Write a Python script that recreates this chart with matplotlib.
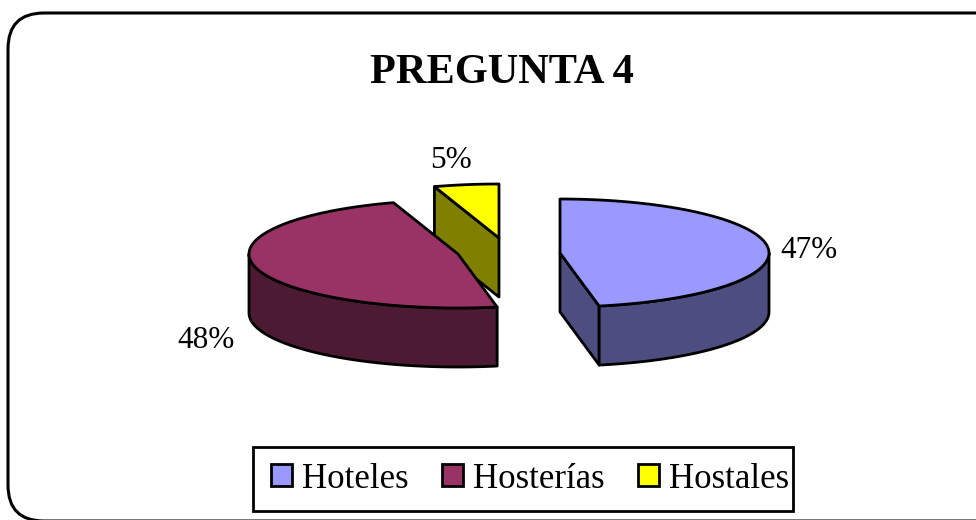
#!/usr/bin/env python3
"""Exploded 3D style pie, PREGUNTA 4."""

import numpy as np
import matplotlib
matplotlib.use("Agg")
import matplotlib.pyplot as plt
from matplotlib.patches import FancyBboxPatch, Polygon, Rectangle

# Data
categories = ["Hoteles", "Hosterías", "Hostales"]
shares = [47, 48, 5]
title = "PREGUNTA 4"

# Styles
top_colors = ["#9999FF", "#993366", "#FFFF00"]
side_colors = ["#4D4D80", "#4D1A33", "#808000"]
centers = [(560, 253), (458, 254), (499, 238)]
label_pos = [(809, 251), (206, 340), (451, 160)]
draw_order = [2, 1, 0]
RX, RY, DEPTH = 209, 54, 59
LINE = 2.0

plt.rcParams["font.family"] = ["Liberation Serif", "DejaVu Serif"]

fig = plt.figure(figsize=(9.76, 5.2), dpi=100)
ax = fig.add_axes([0, 0, 1, 1])
ax.set_xlim(0, 976)
ax.set_ylim(520, 0)
ax.axis("off")

# Rounded frame runs off the right and bottom of the picture
ax.add_patch(FancyBboxPatch((8, 13), 1100, 508, boxstyle="round,pad=0,rounding_size=36",
                            fc="white", ec="black", lw=2.2, clip_on=True))


def rim(center, angles):
    """Points on the top ellipse, angles clockwise from 12 o'clock"""
    cx, cy = center
    return np.column_stack([cx + RX * np.sin(angles), cy - RY * np.cos(angles)])


def face(points, color, order):
    ax.add_patch(Polygon(points, closed=True, fc=color, ec="black", lw=LINE,
                         joinstyle="round", zorder=order))


def draw_slice(idx, start, end, order):
    center = centers[idx]
    top = rim(center, np.linspace(start, end, 80))
    down = np.array([0, DEPTH])

    # Radial walls that turn towards the viewer
    for angle, visible in ((start, np.sin(start) < -1e-6), (end, np.sin(end) > 1e-6)):
        if visible:
            edge = rim(center, np.array([angle]))[0]
            face([center, edge, edge + down, np.array(center) + down],
                 side_colors[idx], order)

    # Outer wall, only the front half of the rim
    lo, hi = max(start, np.pi / 2), min(end, 3 * np.pi / 2)
    if lo < hi:
        wall = rim(center, np.linspace(lo, hi, 80))
        face(np.vstack([wall, (wall + down)[::-1]]), side_colors[idx], order)

    face(np.vstack([[center], top]), top_colors[idx], order)


fractions = np.array(shares) / sum(shares)
edges = np.concatenate([[0], np.cumsum(fractions)]) * 2 * np.pi
for z, i in enumerate(draw_order):
    draw_slice(i, edges[i], edges[i + 1], z + 2)

for value, (x, y) in zip(shares, label_pos):
    ax.text(x, y, f"{value}%", fontsize=22.5, ha="center", va="center", color="black", zorder=10)

ax.text(502, 73, title, fontsize=30.5, fontweight="bold", ha="center", va="center", zorder=10)

# Legend frame is drawn apart, the original has hardly any padding on the right
ax.add_patch(Rectangle((253, 447), 540, 64, fc="white", ec="black", lw=LINE, zorder=9))
handles = [Rectangle((0, 0), 1, 1, fc=c, ec="black", lw=LINE) for c in top_colors]
leg = ax.legend(handles, categories, ncol=3, fontsize=25, loc="center left",
                bbox_to_anchor=(271 / 976, 1 - 479 / 520), frameon=False,
                handlelength=0.6, handleheight=0.6, handletextpad=0.3,
                columnspacing=0.95, borderpad=0, borderaxespad=0)
leg.set_zorder(10)

fig.savefig("out.png", dpi=100)
